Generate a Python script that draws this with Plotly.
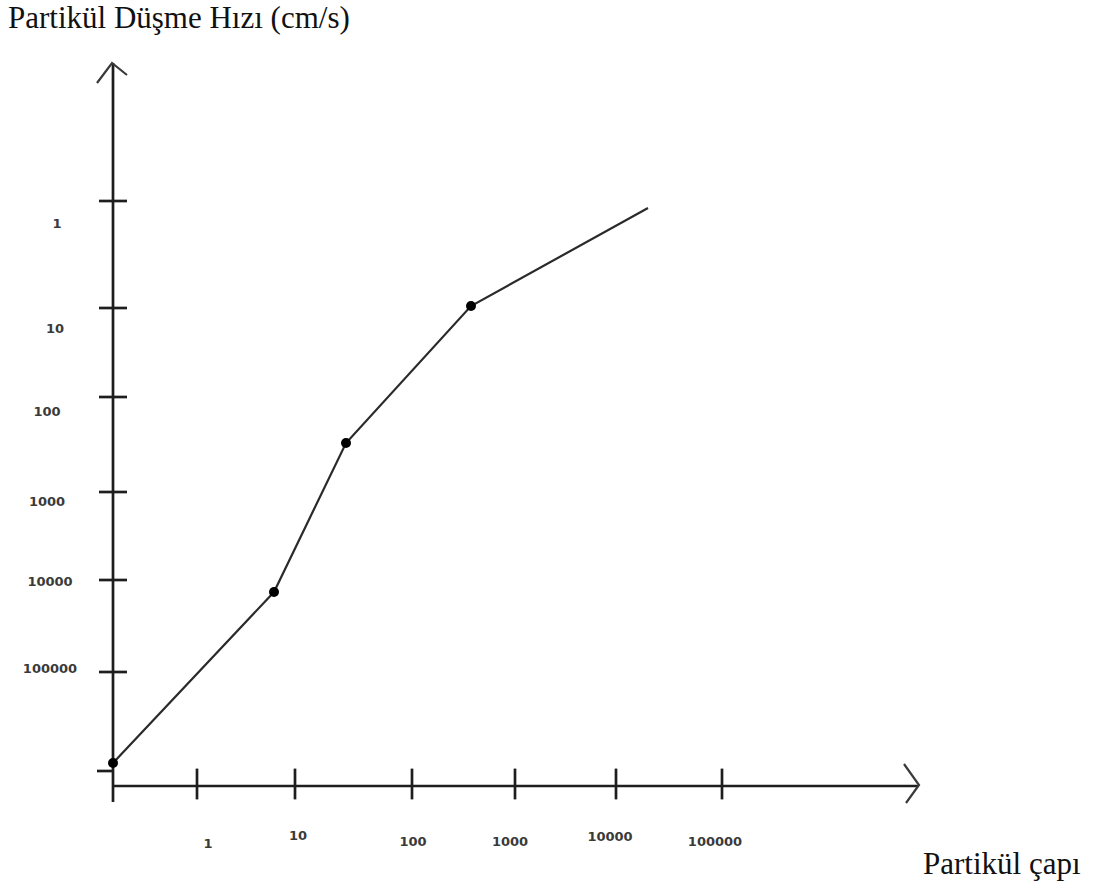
import plotly.graph_objects as go

# Hand-drawn style log-log sketch: settling velocity vs. particle diameter.
# Axis units: origin at (0, 0); decade ticks sit at uneven, hand-placed spots.

x_tick_pos = [0.84, 1.82, 2.99, 4.02, 5.03, 6.09]
x_tick_labels = ["1", "10", "100", "1000", "10000", "100000"]
x_label_pos = [0.95, 1.85, 3.00, 3.97, 4.97, 6.02]
x_label_y = [-0.59, -0.51, -0.57, -0.57, -0.52, -0.57]

y_tick_pos = [1.14, 2.06, 2.94, 3.89, 4.78, 5.85]
y_tick_labels = ["100000", "10000", "1000", "100", "10", "1"]
y_label_pos = [1.16, 2.03, 2.83, 3.73, 4.56, 5.61]
y_label_x = [-0.63, -0.63, -0.66, -0.66, -0.58, -0.56]
y_minor_tick = 0.15

# Curve: breakpoints of the settling-velocity line
curve_x = [0.00, 1.61, 2.33, 3.58, 5.35]
curve_y = [0.23, 1.94, 3.43, 4.80, 5.78]
curve_marked = [True, True, True, True, False]

# Axis extents (with arrow heads)
x_axis_end = 8.05
y_axis_end = 7.23
axis_below = -0.16

AXIS_COLOR = "#1e1e1e"
INK = "#111111"

fig = go.Figure()

# Axis lines
fig.add_trace(go.Scatter(x=[0, x_axis_end], y=[0, 0], mode="lines",
                         line=dict(color=AXIS_COLOR, width=2.7), hoverinfo="skip"))
fig.add_trace(go.Scatter(x=[0, 0], y=[axis_below, y_axis_end], mode="lines",
                         line=dict(color=AXIS_COLOR, width=2.7), hoverinfo="skip"))

# Arrow heads
fig.add_trace(go.Scatter(x=[x_axis_end - 0.14, x_axis_end + 0.01, x_axis_end - 0.12],
                         y=[0.22, 0.01, -0.17], mode="lines",
                         line=dict(color="#3a3a3a", width=2.2), hoverinfo="skip"))
fig.add_trace(go.Scatter(x=[-0.16, -0.01, 0.14],
                         y=[y_axis_end - 0.20, y_axis_end, y_axis_end - 0.12], mode="lines",
                         line=dict(color="#3a3a3a", width=2.2), hoverinfo="skip"))

# Tick marks
fig.add_trace(go.Scatter(x=x_tick_pos, y=[0.02] * len(x_tick_pos), mode="markers",
                         marker=dict(symbol="line-ns", size=22,
                                     line=dict(color=AXIS_COLOR, width=2.7)),
                         hoverinfo="skip"))
fig.add_trace(go.Scatter(x=[0] * len(y_tick_pos), y=y_tick_pos, mode="markers",
                         marker=dict(symbol="line-ew", size=20,
                                     line=dict(color=AXIS_COLOR, width=2.7)),
                         hoverinfo="skip"))
fig.add_trace(go.Scatter(x=[-0.16, 0], y=[y_minor_tick, y_minor_tick], mode="lines",
                         line=dict(color=AXIS_COLOR, width=2.7), hoverinfo="skip"))

# Tick labels
label_font = dict(family="DejaVu Sans", size=13, color="#3a3a3a", weight="bold")
fig.add_trace(go.Scatter(x=x_label_pos, y=x_label_y, mode="text", text=x_tick_labels,
                         textfont=label_font, hoverinfo="skip"))
fig.add_trace(go.Scatter(x=y_label_x, y=y_label_pos, mode="text", text=y_tick_labels,
                         textfont=label_font, hoverinfo="skip"))

# Settling-velocity curve
fig.add_trace(go.Scatter(x=curve_x, y=curve_y, mode="lines",
                         line=dict(color="#2a2a2a", width=2.2), hoverinfo="skip"))
fig.add_trace(go.Scatter(x=[x for x, m in zip(curve_x, curve_marked) if m],
                         y=[y for y, m in zip(curve_y, curve_marked) if m],
                         mode="markers", marker=dict(color="#000000", size=10),
                         hoverinfo="skip"))

fig.add_annotation(text="Partikül Düşme Hızı (cm/s)", xref="paper", yref="paper",
                   x=6 / 1094, y=1 - 18 / 892, xanchor="left", yanchor="middle",
                   showarrow=False,
                   font=dict(family="Liberation Serif", size=31, color=INK))
fig.add_annotation(text="Partikül çapı", xref="paper", yref="paper",
                   x=1002 / 1094, y=1 - 863 / 892, xanchor="center", yanchor="middle",
                   showarrow=False,
                   font=dict(family="Liberation Serif", size=31, color=INK))

fig.update_layout(
    width=1094, height=892, autosize=False,
    margin=dict(l=0, r=0, t=0, b=0),
    paper_bgcolor="white", plot_bgcolor="white",
    showlegend=False,
    xaxis=dict(range=[-1.13, 9.81], visible=False, fixedrange=True),
    yaxis=dict(range=[-1.06, 7.86], visible=False, fixedrange=True),
)

fig.write_html("out.html")
